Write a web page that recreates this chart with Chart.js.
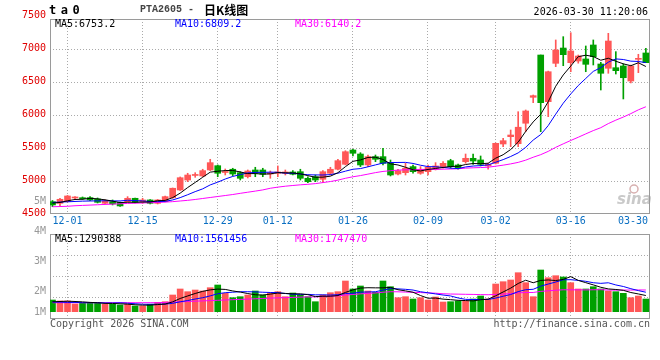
<!DOCTYPE html>
<html><head><meta charset="utf-8">
<script src="https://cdn.jsdelivr.net/npm/chart.js@4.4.1/dist/chart.umd.min.js"></script>
<style>
html,body{margin:0;padding:0;background:#fff;}
#wrap{position:relative;width:660px;height:360px;overflow:hidden;background:#fff;}
#c{position:absolute;left:0;top:0;}
.t{position:absolute;font-family:"DejaVu Sans Mono",monospace;font-size:10px;line-height:12px;white-space:pre;color:#000;}
</style></head><body>
<div id="wrap">
<canvas id="c" width="660" height="360"></canvas>
<div class="t" style="left:49px;top:3px;font-size:12px;font-weight:bold;letter-spacing:4.5px;line-height:14px;">ta0</div>
<div class="t" style="left:140px;top:4px;font-family:'Liberation Mono',monospace;font-weight:bold;color:#444;">PTA2605 - </div>
<div class="t" style="left:204px;top:3px;font-family:'Noto Sans CJK SC',sans-serif;font-size:12px;line-height:14px;font-weight:bold;">日K线图</div>
<div class="t" style="right:12px;top:6px;">2026-03-30 11:20:06</div>
<div class="t" style="left:55px;top:18px;color:#000;">MA5:6753.2</div>
<div class="t" style="left:175px;top:18px;color:#0000ff;">MA10:6809.2</div>
<div class="t" style="left:295px;top:18px;color:#ff00ff;">MA30:6140.2</div>
<div class="t" style="left:55px;top:233px;color:#000;">MA5:1290388</div>
<div class="t" style="left:175px;top:233px;color:#0000ff;">MA10:1561456</div>
<div class="t" style="left:295px;top:233px;color:#ff00ff;">MA30:1747470</div>
<div class="t" style="left:50px;top:318px;color:#555;">Copyright 2026 SINA.COM</div>
<div class="t" style="right:10px;top:318px;color:#555;">http://finance.sina.com.cn</div>
</div>
<script>
// ---- data ----
const dates = ['11-27','11-28',
 '12-01','12-02','12-03','12-04','12-05','12-08','12-09','12-10','12-11','12-12',
 '12-15','12-16','12-17','12-18','12-19','12-22','12-23','12-24','12-25','12-26',
 '12-29','12-30','12-31','01-05','01-06','01-07','01-08','01-09',
 '01-12','01-13','01-14','01-15','01-16','01-19','01-20','01-21','01-22','01-23',
 '01-26','01-27','01-28','01-29','01-30','02-02','02-03','02-04','02-05','02-06',
 '02-09','02-10','02-11','02-12','02-13','02-24','02-25','02-26','02-27',
 '03-02','03-03','03-04','03-05','03-06','03-09','03-10','03-11','03-12','03-13',
 '03-16','03-17','03-18','03-19','03-20','03-23','03-24','03-25','03-26','03-27','03-30'];
const open  = [4702,4677,4702,4758,4758,4763,4743,4677,4702,4692,4702,4753,4702,4728,4677,4702,4763,4879,5030,5099,
               5091,5182,5247,5144,5193,5141,5080,5182,5182,5121,5132,5132,5152,5156,5056,5080,5041,5132,5193,5268,
               5485,5424,5258,5384,5384,5293,5121,5141,5233,5132,5156,5208,5233,5323,5258,5308,5359,5334,5243,5283,
               5576,5687,5580,5890,6283,6924,6217,6798,7030,6808,6833,6864,7076,6788,6723,6732,6758,6530,6859,6955];
const high  = [4720,4753,4796,4778,4773,4778,4758,4728,4728,4697,4778,4758,4753,4735,4735,4788,4909,5076,5132,5141,
               5193,5344,5258,5197,5208,5156,5182,5223,5208,5167,5243,5182,5172,5193,5080,5106,5172,5223,5344,5474,
               5495,5444,5409,5409,5510,5333,5193,5283,5258,5233,5258,5293,5308,5344,5273,5424,5424,5394,5283,5591,
               5662,5788,6065,6091,6318,6924,6680,7152,7202,7262,6924,7061,7152,6813,7253,6975,6790,6770,6935,7025];
const low   = [4626,4637,4697,4743,4735,4717,4682,4667,4652,4629,4692,4682,4677,4667,4667,4697,4753,4871,5005,5071,
               5080,5172,5080,5106,5096,5030,5061,5080,5080,5056,5080,5106,5106,5030,4990,5005,4990,5106,5182,5258,
               5394,5233,5233,5308,5258,5091,5106,5106,5132,5117,5106,5182,5208,5208,5193,5284,5268,5243,5193,5273,
               5535,5535,5535,5762,6202,5762,5990,6747,6762,6671,6800,6671,6773,6394,6647,6636,6258,6500,6656,6808];
const close = [4652,4738,4788,4765,4747,4728,4692,4717,4667,4637,4753,4692,4728,4677,4728,4778,4905,5065,5106,5111,
               5172,5293,5132,5159,5121,5056,5167,5132,5117,5141,5152,5152,5117,5056,5005,5030,5156,5193,5323,5459,
               5435,5258,5384,5344,5283,5106,5172,5208,5156,5193,5223,5243,5283,5233,5208,5359,5318,5268,5268,5586,
               5626,5712,5830,6076,6308,6202,6671,7000,6929,6985,6909,6783,6899,6647,7136,6687,6580,6758,6874,6808];
const ma5   = [4680,4690,4715,4735,4738,4753,4744,4730,4710,4688,4693,4693,4695,4697,4716,4721,4763,4831,4916,4993,
               5072,5149,5163,5173,5175,5152,5127,5127,5119,5123,5142,5139,5136,5124,5096,5072,5073,5088,5141,5232,
               5313,5334,5372,5376,5341,5275,5258,5223,5185,5167,5190,5205,5220,5235,5238,5265,5280,5277,5284,5360,
               5413,5492,5604,5766,5910,6026,6217,6451,6622,6757,6899,6921,6901,6845,6875,6830,6790,6762,6807,6750];
const ma10  = [4690,4695,4700,4705,4710,4712,4714,4715,4714,4713,4723,4719,4713,4704,4702,4707,4728,4763,4807,4854,
               4896,4956,4997,5045,5084,5112,5138,5145,5146,5149,5147,5133,5131,5121,5110,5107,5106,5112,5133,5164,
               5193,5203,5230,5259,5287,5294,5296,5297,5281,5254,5233,5231,5221,5210,5203,5228,5242,5248,5260,5299,
               5339,5386,5441,5525,5635,5719,5855,6028,6194,6334,6462,6569,6676,6733,6816,6865,6856,6831,6826,6809];
const ma30  = [4625,4628,4632,4640,4645,4650,4655,4660,4665,4670,4675,4678,4682,4686,4690,4695,4702,4712,4722,4735,
               4750,4765,4780,4795,4810,4828,4845,4862,4880,4905,4922,4936,4947,4957,4965,4975,4991,5007,5028,5056,
               5079,5097,5119,5142,5160,5171,5180,5185,5186,5189,5191,5189,5194,5197,5200,5210,5215,5219,5224,5239,
               5255,5274,5297,5331,5375,5414,5464,5525,5578,5629,5678,5729,5779,5823,5885,5937,5984,6036,6093,6140];
// volume in thousands
const volK  = [1700,1667,1667,1567,1590,1610,1610,1557,1557,1533,1557,1500,1500,1557,1623,1643,1867,2067,1977,2033,
               2000,2110,2200,1923,1777,1810,1867,2000,1867,1943,1977,1810,1933,1867,1810,1643,1867,1943,1977,2333,
               2067,2167,2000,1957,2333,2143,1777,1810,1733,1777,1700,1800,1633,1643,1667,1667,1733,1833,1733,2233,
               2310,2367,2610,2277,1810,2700,2443,2510,2467,2277,2067,2067,2143,2067,2000,1977,1923,1777,1833,1733];
const volMa5  = [1640,1650,1660,1650,1638,1620,1609,1587,1585,1573,1563,1541,1529,1529,1547,1565,1638,1751,1835,1917,
                 1989,2037,2064,2053,2002,1964,1915,1875,1864,1897,1931,1919,1906,1906,1879,1813,1824,1826,1848,1953,
                 2037,2097,2109,2105,2105,2120,2042,2004,1959,1848,1759,1764,1729,1711,1689,1682,1669,1709,1727,1840,
                 1968,2095,2251,2359,2275,2353,2368,2348,2386,2479,2353,2278,2204,2124,2069,2051,2022,1949,1902,1849];
const volMa10 = [1630,1630,1620,1620,1610,1610,1610,1600,1600,1606,1592,1575,1558,1557,1560,1564,1589,1640,1682,1732,
                 1777,1838,1908,1944,1960,1976,1976,1970,1959,1950,1947,1917,1891,1885,1888,1872,1872,1866,1877,1916,
                 1925,1961,1967,1976,2029,2079,2070,2056,2032,1976,1940,1903,1866,1835,1768,1721,1716,1719,1719,1764,
                 1825,1882,1980,2043,2057,2161,2232,2299,2373,2377,2353,2323,2276,2255,2274,2202,2150,2077,2013,1959];
const volMa30 = [1610,1610,1610,1610,1610,1610,1610,1610,1610,1610,1610,1610,1610,1610,1610,1620,1630,1640,1650,1660,
                 1670,1680,1690,1700,1710,1720,1730,1740,1750,1763,1772,1777,1786,1796,1803,1804,1813,1825,1839,1866,
                 1883,1905,1922,1935,1959,1976,1973,1964,1956,1947,1937,1927,1908,1899,1895,1890,1886,1880,1876,1886,
                 1897,1915,1938,1951,1951,1987,2006,2025,2041,2039,2039,2036,2041,2044,2033,2028,2033,2031,2035,2033];
const priceTicks = [4500,5000,5500,6000,6500,7000,7500];
const priceGrid  = [5000,5500,6000,6500,7000];
const volTicksK  = [1000,2000,3000,4000,5000];
const dateTicks  = ['12-01','12-15','12-29','01-12','01-26','02-09','03-02','03-16','03-30'];

// ---- drawing ----
const UP = '#ff5757', DOWN = '#00a000';
const idx = dates.map((d, i) => i);
const colorAt = i => close[i] >= open[i] ? UP : DOWN;
const colors = idx.map(colorAt);
const MONO = '"DejaVu Sans Mono", monospace';

const panels = [[19, 213], [234, 318]];

const framePlugin = {
  id: 'frame',
  beforeDatasetsDraw(chart) {
    const {ctx, chartArea: ca, scales: {x}} = chart;
    const L = ca.left, R = ca.right;
    ctx.save();
    // watermark
    ctx.font = 'italic bold 15px "DejaVu Sans", sans-serif';
    ctx.fillStyle = '#c9c9c9';
    ctx.textAlign = 'left';
    ctx.textBaseline = 'alphabetic';
    ctx.fillText('sina', 617, 204);
    ctx.beginPath();
    ctx.arc(634, 189, 4, 0, Math.PI * 2);
    ctx.strokeStyle = '#d8b0b0';
    ctx.lineWidth = 1.5;
    ctx.stroke();
    // vertical dotted grid
    ctx.strokeStyle = '#aaaaaa';
    ctx.lineWidth = 1;
    ctx.setLineDash([1, 2]);
    dateTicks.forEach(d => {
      const i = dates.indexOf(d);
      if (i === dates.length - 1) return;
      const px = Math.round(x.getPixelForValue(i)) - 0.5;
      panels.forEach(([t, b]) => {
        ctx.beginPath(); ctx.moveTo(px, t); ctx.lineTo(px, b); ctx.stroke();
      });
    });
    // volume panel horizontal dotted grid
    const [vt, vb] = panels[1];
    [1, 2, 3].forEach(k => {
      const py = Math.round(vt + k * (vb - vt) / 4) + 0.5;
      ctx.beginPath(); ctx.moveTo(L, py); ctx.lineTo(R, py); ctx.stroke();
    });
    ctx.setLineDash([]);
    ctx.strokeStyle = '#9a9a9a';
    panels.forEach(([t, b]) => ctx.strokeRect(L + 0.5, t + 0.5, R - L - 1, b - t));
    ctx.restore();
  },
  afterDraw(chart) {
    const {ctx, chartArea: ca, scales: {x, yv}} = chart;
    ctx.save();
    ctx.font = '10px ' + MONO;
    ctx.textBaseline = 'middle';
    // date labels
    ctx.fillStyle = '#0a6fc2';
    dateTicks.forEach(d => {
      const i = dates.indexOf(d);
      const px = x.getPixelForValue(i);
      if (i === dates.length - 1) { ctx.textAlign = 'right'; ctx.fillText(d, 648, 221); }
      else { ctx.textAlign = 'center'; ctx.fillText(d, px, 221); }
    });
    // volume axis labels from the volume scale
    ctx.fillStyle = '#999999';
    ctx.textAlign = 'right';
    volTicksK.forEach(v => {
      const val = Math.max(v, yv.min);
      ctx.fillText(Math.round(v / 1000) + 'M', ca.left - 4, yv.getPixelForValue(val));
    });
    ctx.restore();
  }
};

const line = (arr, color, axis) => ({
  type: 'line', yAxisID: axis, data: idx.map(i => ({x: i, y: arr[i]})),
  borderColor: color, borderWidth: 1, pointRadius: 0, tension: 0, order: 0
});

new Chart(document.getElementById('c'), {
  data: {
    datasets: [
      {type: 'bar', yAxisID: 'y', data: idx.map(i => ({x: i, y: [low[i], high[i]]})),
       backgroundColor: colors, barThickness: 1, grouped: false, order: 2},
      {type: 'bar', yAxisID: 'y', data: idx.map(i => ({x: i, y: [open[i], close[i]]})),
       backgroundColor: colors, barThickness: 6, minBarLength: 1, grouped: false, order: 1},
      line(ma5, '#000000', 'y'),
      line(ma10, '#0000ff', 'y'),
      line(ma30, '#ff00ff', 'y'),
      {type: 'bar', yAxisID: 'yv', data: idx.map(i => ({x: i, y: volK[i]})),
       backgroundColor: colors, barThickness: 6, grouped: false, order: 1},
      line(volMa5, '#000000', 'yv'),
      line(volMa10, '#0000ff', 'yv'),
      line(volMa30, '#ff00ff', 'yv')
    ]
  },
  options: {
    responsive: false,
    animation: false,
    events: [],
    layout: {padding: {top: 17, bottom: 48, left: 0, right: 10}},
    plugins: {legend: {display: false}, tooltip: {enabled: false}},
    scales: {
      x: {type: 'linear', min: -0.33, max: 79.55, display: false, offset: false},
      y: {
        position: 'left', min: 3030, max: 7500,
        afterBuildTicks: s => { s.ticks = priceTicks.map(v => ({value: v})); },
        afterFit: s => { s.width = 50; },
        ticks: {color: '#e00000', font: {family: MONO, size: 10}, padding: 4, labelOffset: -2,
                autoSkip: false, callback: v => String(v)},
        grid: {drawTicks: false, lineWidth: 1,
               color: c => (c.tick && priceGrid.includes(c.tick.value)) ? '#aaaaaa' : 'rgba(0,0,0,0)'},
        border: {display: false, dash: [1, 2]}
      },
      yv: {position: 'right', display: false, min: 1300, max: 11133}
    }
  },
  plugins: [framePlugin]
});
</script>
</body></html>
